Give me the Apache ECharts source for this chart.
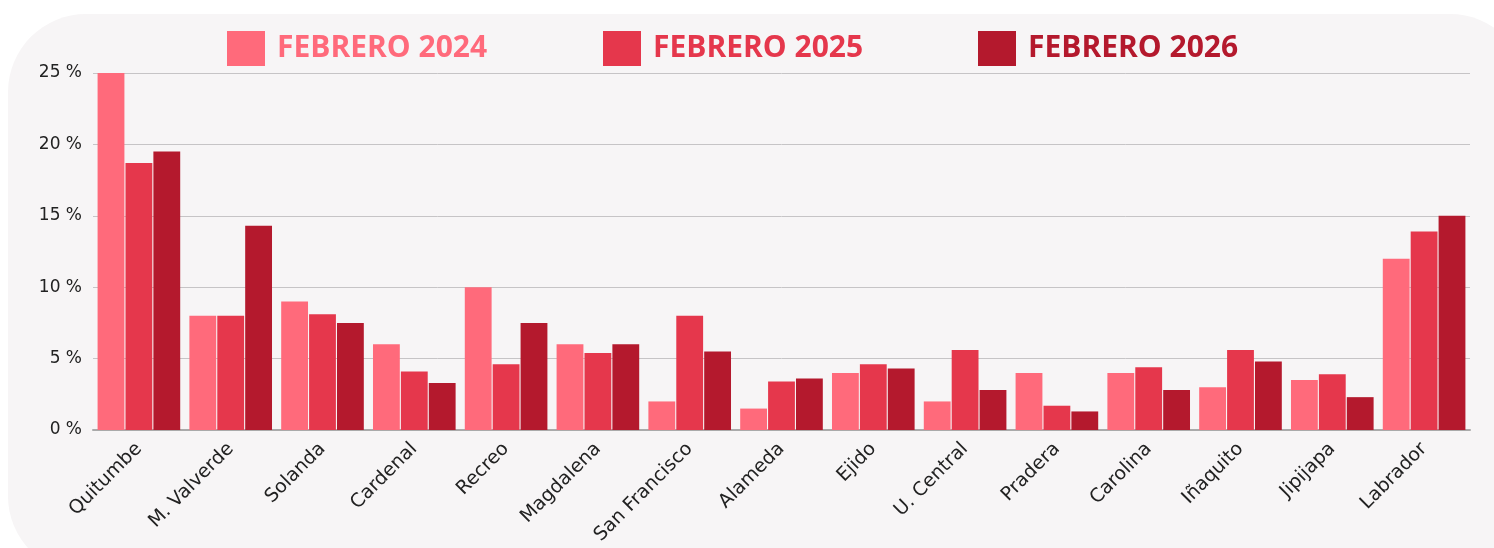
<!DOCTYPE html>
<html>
<head>
<meta charset="utf-8">
<script src="https://cdn.jsdelivr.net/npm/echarts@6/dist/echarts.min.js"></script>
<style>
  html, body { margin: 0; padding: 0; background: #ffffff; overflow: hidden; }
  .panel {
    position: absolute; left: 8px; top: 14px; width: 1520px; height: 560px;
    background: #f7f5f6; border-radius: 78px;
  }
  #chart { position: absolute; left: 0; top: 0; width: 1494px; height: 548px; }
</style>
</head>
<body>
<div class="panel"></div>
<div id="chart"></div>
<script>
const categories = ['Quitumbe', 'M. Valverde', 'Solanda', 'Cardenal', 'Recreo', 'Magdalena', 'San Francisco',
  'Alameda', 'Ejido', 'U. Central', 'Pradera', 'Carolina', 'Iñaquito', 'Jipijapa', 'Labrador']
const seriesNames = ['FEBRERO 2024', 'FEBRERO 2025', 'FEBRERO 2026']
const feb2024 = [25, 8.0, 9.0, 6.0, 10.0, 6.0, 2.0, 1.5, 4.0, 2.0, 4.0, 4.0, 3.0, 3.5, 12.0]
const feb2025 = [18.7, 8.0, 8.1, 4.1, 4.6, 5.4, 8.0, 3.4, 4.6, 5.6, 1.7, 4.4, 5.6, 3.9, 13.9]
const feb2026 = [19.5, 14.3, 7.5, 3.3, 7.5, 6.0, 5.5, 3.6, 4.3, 2.8, 1.3, 2.8, 4.8, 2.3, 15.0]
const colors = ['#ff6a7b', '#e5374c', '#b4192d']
const legendLeft = [222, 598, 973]

const chart = echarts.init(document.getElementById('chart'))

const makeSeries = (name, data, i) => ({
  name,
  type: 'bar',
  data,
  barGap: '4%',
  barCategoryGap: '10%',
  itemStyle: { color: colors[i] }
})

chart.setOption({
  backgroundColor: 'transparent',
  animation: false,
  color: colors,
  legend: seriesNames.map((name, i) => ({
    top: 26,
    left: legendLeft[i],
    itemWidth: 38,
    itemHeight: 35,
    icon: 'rect',
    data: [name],
    textStyle: {
      color: colors[i],
      fontFamily: 'Open Sans',
      fontWeight: 'bold',
      fontSize: 30,
      padding: [0, 0, 0, 7]
    }
  })),
  grid: { left: 93, right: 24, top: 73, bottom: 118, containLabel: false },
  xAxis: {
    type: 'category',
    data: categories,
    axisTick: { show: false },
    axisLine: { lineStyle: { color: '#aaaaaa', width: 2 } },
    axisLabel: {
      rotate: 45,
      margin: 16,
      color: '#222222',
      fontFamily: 'DejaVu Sans',
      fontSize: 19
    }
  },
  yAxis: {
    type: 'value',
    min: 0,
    max: 25,
    interval: 5,
    axisLine: { show: false },
    axisTick: { show: false },
    axisLabel: {
      formatter: '{value} %',
      color: '#222222',
      fontFamily: 'DejaVu Sans',
      fontSize: 17,
      margin: 11
    },
    splitLine: { lineStyle: { color: '#c6c4c6', width: 1 } }
  },
  series: [
    makeSeries(seriesNames[0], feb2024, 0),
    makeSeries(seriesNames[1], feb2025, 1),
    makeSeries(seriesNames[2], feb2026, 2)
  ]
})
</script>
</body>
</html>
